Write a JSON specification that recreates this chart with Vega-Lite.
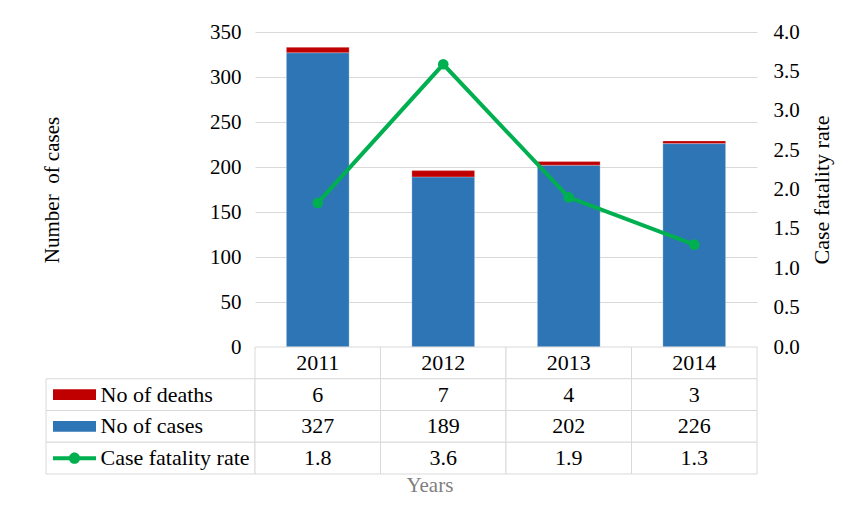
{
  "$schema": "https://vega.github.io/schema/vega-lite/v6.json",
  "background": "white",
  "padding": {"left": 41, "top": 21, "right": 5, "bottom": 5},
  "datasets": {
    "main": [
      {"year": "2011", "cases": 327, "deaths": 6, "cfr": 1.83},
      {"year": "2012", "cases": 189, "deaths": 7, "cfr": 3.59},
      {"year": "2013", "cases": 202, "deaths": 4, "cfr": 1.9},
      {"year": "2014", "cases": 226, "deaths": 3, "cfr": 1.3}
    ],
    "rows": [
      {"row": "deaths", "label": "No of deaths"},
      {"row": "cases", "label": "No of cases"},
      {"row": "cfr", "label": "Case fatality rate"}
    ]
  },
  "config": {
    "font": "Liberation Serif",
    "view": {"stroke": null},
    "text": {"font": "Liberation Serif"},
    "axis": {"labelFont": "Liberation Serif", "titleFont": "Liberation Serif"}
  },
  "title": {
    "text": "Years",
    "orient": "bottom",
    "anchor": "middle",
    "fontSize": 21,
    "fontWeight": "normal",
    "color": "#7f7f7f",
    "font": "Liberation Serif",
    "offset": 0,
    "dx": -7
  },
  "columns": 2,
  "spacing": 0,
  "bounds": "flush",
  "resolve": {"scale": {"color": "independent", "shape": "independent"}},
  "concat": [
    {
      "width": 209,
      "height": 315,
      "data": {"values": [{"blank": 0}]},
      "mark": {"type": "point", "opacity": 0},
      "encoding": {}
    },
    {
      "width": 502,
      "height": 315,
      "data": {"name": "main"},
      "layer": [
        {
          "transform": [{"fold": ["cases", "deaths"], "as": ["series", "value"]}],
          "mark": {"type": "bar", "stroke": "#ffffff", "strokeWidth": 0.5, "strokeOpacity": 0.5},
          "encoding": {
            "x": {"field": "year", "type": "nominal", "scale": {"paddingInner": 0.5, "paddingOuter": 0.25}, "axis": null},
            "y": {
              "field": "value",
              "type": "quantitative",
              "stack": "zero",
              "scale": {"domain": [0, 350], "nice": false},
              "axis": {
                "values": [0, 50, 100, 150, 200, 250, 300, 350],
                "title": "Number\u00a0 of cases",
                "grid": true,
                "gridColor": "#d9d9d9",
                "gridWidth": 1,
                "domain": false,
                "ticks": false,
                "labelFont": "Liberation Serif",
                "labelFontSize": 21,
                "labelColor": "#000000",
                "labelPadding": 14,
                "titleFont": "Liberation Serif",
                "titleFontSize": 21,
                "titleFontWeight": "normal",
                "titleColor": "#000000",
                "titlePadding": 147
              }
            },
            "color": {
              "field": "series",
              "type": "nominal",
              "scale": {"domain": ["cases", "deaths"], "range": ["#2E75B6", "#C00000"]},
              "legend": null
            },
            "order": {"field": "series", "sort": "ascending"}
          }
        },
        {
          "mark": {"type": "line", "color": "#00B050", "strokeWidth": 4},
          "encoding": {
            "x": {"field": "year", "type": "nominal"},
            "y": {
              "field": "cfr",
              "type": "quantitative",
              "scale": {"domain": [0, 4], "nice": false},
              "axis": {
                "orient": "right",
                "values": [0, 0.5, 1, 1.5, 2, 2.5, 3, 3.5, 4],
                "format": ".1f",
                "title": "Case fatality rate",
                "grid": false,
                "domain": false,
                "ticks": false,
                "labelFont": "Liberation Serif",
                "labelFontSize": 21,
                "labelColor": "#000000",
                "labelPadding": 16,
                "titleFont": "Liberation Serif",
                "titleFontSize": 22,
                "titleFontWeight": "normal",
                "titleColor": "#000000",
                "titleAngle": 270,
                "titleBaseline": "top",
                "titlePadding": 12
              }
            }
          }
        },
        {
          "mark": {"type": "point", "shape": "circle", "filled": true, "color": "#00B050", "opacity": 1, "size": 113},
          "encoding": {
            "x": {"field": "year", "type": "nominal"},
            "y": {"field": "cfr", "type": "quantitative", "scale": {"domain": [0, 4], "nice": false}, "axis": null}
          }
        }
      ],
      "resolve": {"scale": {"y": "independent"}}
    },
    {
      "width": 209,
      "height": 127,
      "data": {"name": "rows"},
      "layer": [
        {
          "mark": {"type": "rect", "fill": "#ffffff", "stroke": "#d9d9d9", "strokeWidth": 1},
          "encoding": {
            "y": {"field": "row", "type": "nominal", "scale": {"domain": ["year", "deaths", "cases", "cfr"], "paddingInner": 0, "paddingOuter": 0}, "axis": null}
          }
        },
        {
          "mark": {"type": "point", "filled": true, "opacity": 1, "size": 1849, "xOffset": -76},
          "encoding": {
            "y": {"field": "row", "type": "nominal"},
            "shape": {
              "field": "row",
              "type": "nominal",
              "scale": {
                "domain": ["deaths", "cases", "cfr"],
                "range": [
                  "M-1,-0.25H1V0.25H-1Z",
                  "M-1,-0.25H1V0.25H-1Z",
                  "M-1,-0.093H1V0.093H-1Z M0.26,0 A0.26,0.26 0 1,1 -0.26,0 A0.26,0.26 0 1,1 0.26,0Z"
                ]
              },
              "legend": null
            },
            "color": {
              "field": "row",
              "type": "nominal",
              "scale": {"domain": ["deaths", "cases", "cfr"], "range": ["#C00000", "#2E75B6", "#00B050"]},
              "legend": null
            }
          }
        },
        {
          "mark": {"type": "text", "font": "Liberation Serif", "align": "left", "baseline": "middle", "dx": -50, "fontSize": 22, "color": "#000000"},
          "encoding": {
            "y": {"field": "row", "type": "nominal"},
            "text": {"field": "label"}
          }
        }
      ]
    },
    {
      "width": 502,
      "height": 127,
      "data": {"name": "main"},
      "encoding": {
        "x": {"field": "year", "type": "nominal", "scale": {"type": "band", "paddingInner": 0, "paddingOuter": 0}, "axis": null}
      },
      "layer": [
        {
          "transform": [{"fold": ["year", "deaths", "cases", "cfr"], "as": ["row", "v"]}],
          "mark": {"type": "rect", "fill": "#ffffff", "stroke": "#d9d9d9", "strokeWidth": 1},
          "encoding": {
            "y": {"field": "row", "type": "nominal", "scale": {"domain": ["year", "deaths", "cases", "cfr"], "paddingInner": 0, "paddingOuter": 0}, "axis": null}
          }
        },
        {
          "mark": {"type": "text", "font": "Liberation Serif", "fontSize": 22, "color": "#000000", "baseline": "middle"},
          "encoding": {"y": {"datum": "year", "type": "nominal"}, "text": {"field": "year"}}
        },
        {
          "mark": {"type": "text", "font": "Liberation Serif", "fontSize": 22, "color": "#000000", "baseline": "middle"},
          "encoding": {"y": {"datum": "deaths", "type": "nominal"}, "text": {"field": "deaths", "format": "d"}}
        },
        {
          "mark": {"type": "text", "font": "Liberation Serif", "fontSize": 22, "color": "#000000", "baseline": "middle"},
          "encoding": {"y": {"datum": "cases", "type": "nominal"}, "text": {"field": "cases", "format": "d"}}
        },
        {
          "mark": {"type": "text", "font": "Liberation Serif", "fontSize": 22, "color": "#000000", "baseline": "middle"},
          "encoding": {"y": {"datum": "cfr", "type": "nominal"}, "text": {"field": "cfr", "format": ".1f"}}
        }
      ]
    }
  ]
}
